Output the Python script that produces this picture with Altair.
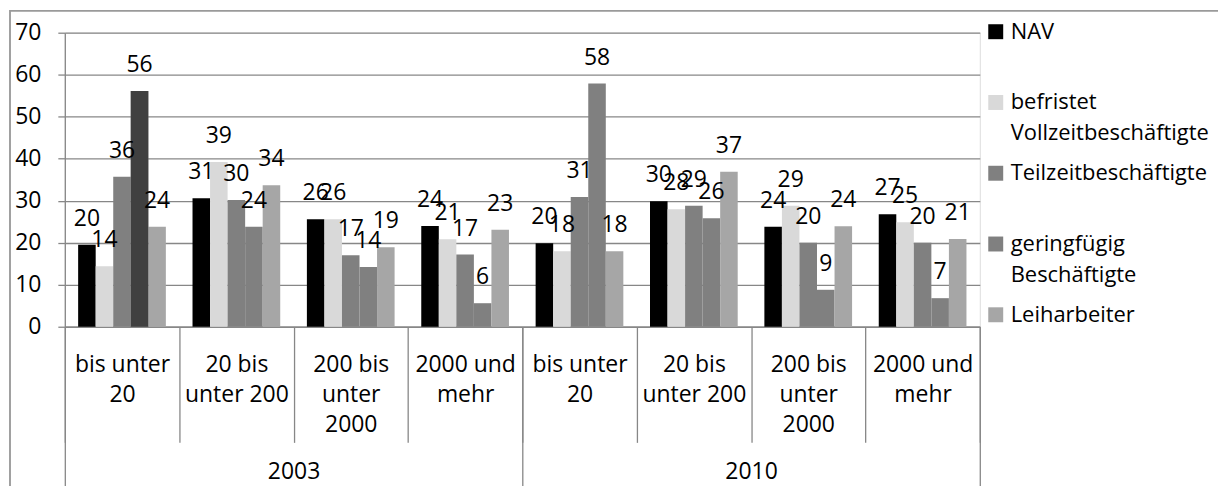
import altair as alt
import pandas as pd

# ---------------- data ----------------
years = ["2003", "2010"]
sizes = ["bis unter 20", "20 bis unter 200", "200 bis unter 2000", "2000 und mehr"]
size_lines = [["bis unter", "20"], ["20 bis", "unter 200"], ["200 bis", "unter", "2000"], ["2000 und", "mehr"]]
series = ["NAV", "befristet Vollzeitbeschäftigte", "Teilzeitbeschäftigte",
          "geringfügig Beschäftigte", "Leiharbeiter"]
series_lines = [["NAV"], ["befristet", "Vollzeitbeschäftigte"], ["Teilzeitbeschäftigte"],
                ["geringfügig", "Beschäftigte"], ["Leiharbeiter"]]
colors = ["#000000", "#D9D9D9", "#808080", "#808080", "#A6A6A6"]
highlight_color = "#404040"

# values per group: 2003 (4 sizes) then 2010 (4 sizes)
nav = [19.5, 30.6, 25.6, 24.0, 19.9, 29.9, 23.8, 26.8]
befristet = [14.4, 39.2, 25.6, 20.8, 18.0, 28.0, 28.8, 24.9]
teilzeit = [35.7, 30.2, 17.0, 17.2, 30.9, 28.8, 20.0, 20.0]
geringfuegig = [56.1, 23.8, 14.2, 5.6, 57.9, 25.8, 8.8, 6.8]
leiharbeiter = [23.8, 33.7, 18.9, 23.1, 18.0, 36.9, 23.9, 20.9]

# highlighted bar (drawn darker in the original)
highlight = ("2003", "bis unter 20", "geringfügig Beschäftigte")

# ---------------- table ----------------
values = [nav, befristet, teilzeit, geringfuegig, leiharbeiter]
groups = [f"{y} {s}" for y in years for s in sizes]
rows = []
for si, sname in enumerate(series):
    for gi, g in enumerate(groups):
        y = years[gi // 4]
        s = sizes[gi % 4]
        rows.append({"grp": g, "year": y, "size": s, "series": sname,
                     "value": values[si][gi],
                     "hl": (y, s, sname) == highlight})
df = pd.DataFrame(rows)
df_years = pd.DataFrame({"year": years})

FONT = "Open Sans"
FS = 23
GRAY = "#878787"


def js_list(lst):
    return "[" + ",".join("'" + x + "'" for x in lst) + "]"


grp_lines = [size_lines[i % 4] for i in range(len(groups))]
x_label_expr = "[" + ",".join(js_list(l) for l in grp_lines) + "][indexof(" + js_list(groups) + ", datum.value)]"
legend_label_expr = "[" + ",".join(js_list(l) for l in series_lines) + "][indexof(" + js_list(series) + ", datum.label)]"

x_scale = alt.Scale(domain=groups, paddingInner=0, paddingOuter=0)
xoff_scale = alt.Scale(domain=series, paddingInner=0, paddingOuter=0.76)

x_axis = alt.Axis(title=None, labelExpr=x_label_expr, labelAngle=0, tickBand="extent",
                  tickSize=116, tickColor=GRAY, tickWidth=1.3, domainColor=GRAY, domainWidth=1.5,
                  labelPadding=-89, labelBaseline="top", labelLineHeight=30,
                  labelFont=FONT, labelFontSize=FS, labelColor="#000000", grid=False)

y_enc = alt.Y("value:Q", scale=alt.Scale(domain=[0, 70], nice=False),
              axis=alt.Axis(title=None, values=list(range(0, 71, 10)), grid=True, gridColor=GRAY,
                            gridWidth=1.3, domainColor=GRAY, domainWidth=1.3, tickColor=GRAY,
                            tickSize=7, tickWidth=1.3, labelPadding=17, labelFont=FONT,
                            labelFontSize=FS, labelColor="#000000"))

bars = alt.Chart(df).mark_bar().encode(
    x=alt.X("grp:N", scale=x_scale, axis=x_axis, sort=groups),
    xOffset=alt.XOffset("series:N", scale=xoff_scale, sort=series),
    y=y_enc,
    color=alt.Color("series:N", scale=alt.Scale(domain=series, range=colors), sort=series,
                    legend=alt.Legend(title=None, orient="none", legendX=923, legendY=-12,
                                      symbolType="square", symbolSize=225, symbolStrokeWidth=0,
                                      labelFont=FONT, labelFontSize=22, labelColor="#000000",
                                      labelLimit=400, labelOffset=4, gridAlign="all",
                                      rowPadding=18, padding=0, labelExpr=legend_label_expr)),
)

hl_bar = alt.Chart(df).transform_filter("datum.hl").mark_bar(color=highlight_color).encode(
    x=alt.X("grp:N", scale=x_scale, sort=groups),
    xOffset=alt.XOffset("series:N", scale=xoff_scale, sort=series),
    y=alt.Y("value:Q"),
)

labels = alt.Chart(df).mark_text(dy=-26, baseline="middle", font=FONT, fontSize=FS,
                                 color="#000000").encode(
    x=alt.X("grp:N", scale=x_scale, sort=groups),
    xOffset=alt.XOffset("series:N", scale=xoff_scale, sort=series),
    y=alt.Y("value:Q"),
    text=alt.Text("value:Q", format=".0f"),
)

inner = alt.layer(bars, hl_bar, labels)

year_layer = alt.Chart(df_years).mark_bar(opacity=0).encode(
    x=alt.X("year:N", sort=years,
            scale=alt.Scale(type="band", domain=years, paddingInner=0, paddingOuter=0),
            axis=alt.Axis(orient="bottom", title=None, tickBand="extent", tickSize=164,
                          tickColor=GRAY, tickWidth=1.3, domain=False, labelAngle=0,
                          labelPadding=-30, labelBaseline="top", labelFont=FONT,
                          labelFontSize=FS, labelColor="#000000", grid=False)),
    y=alt.value(0),
    y2=alt.value(1),
)

frame = alt.Chart(df_years).mark_rect(fillOpacity=0, stroke="#9a9a9a", strokeWidth=1.5).encode(
    x=alt.value(-55), x2=alt.value(1400), y=alt.value(-22), y2=alt.value(700)
)

chart = alt.layer(frame, inner, year_layer).resolve_scale(x="independent").properties(
    width=918, height=295,
    autosize=alt.AutoSizeParams(type="none"),
    padding={"left": 57, "top": 24, "right": 239, "bottom": 159},
).configure_view(stroke=None).configure(
    background="white",
    style={"guide-label": {"lineHeight": 31}},
)

chart.save("out.html", embed_options={"renderer": "svg", "actions": False})
